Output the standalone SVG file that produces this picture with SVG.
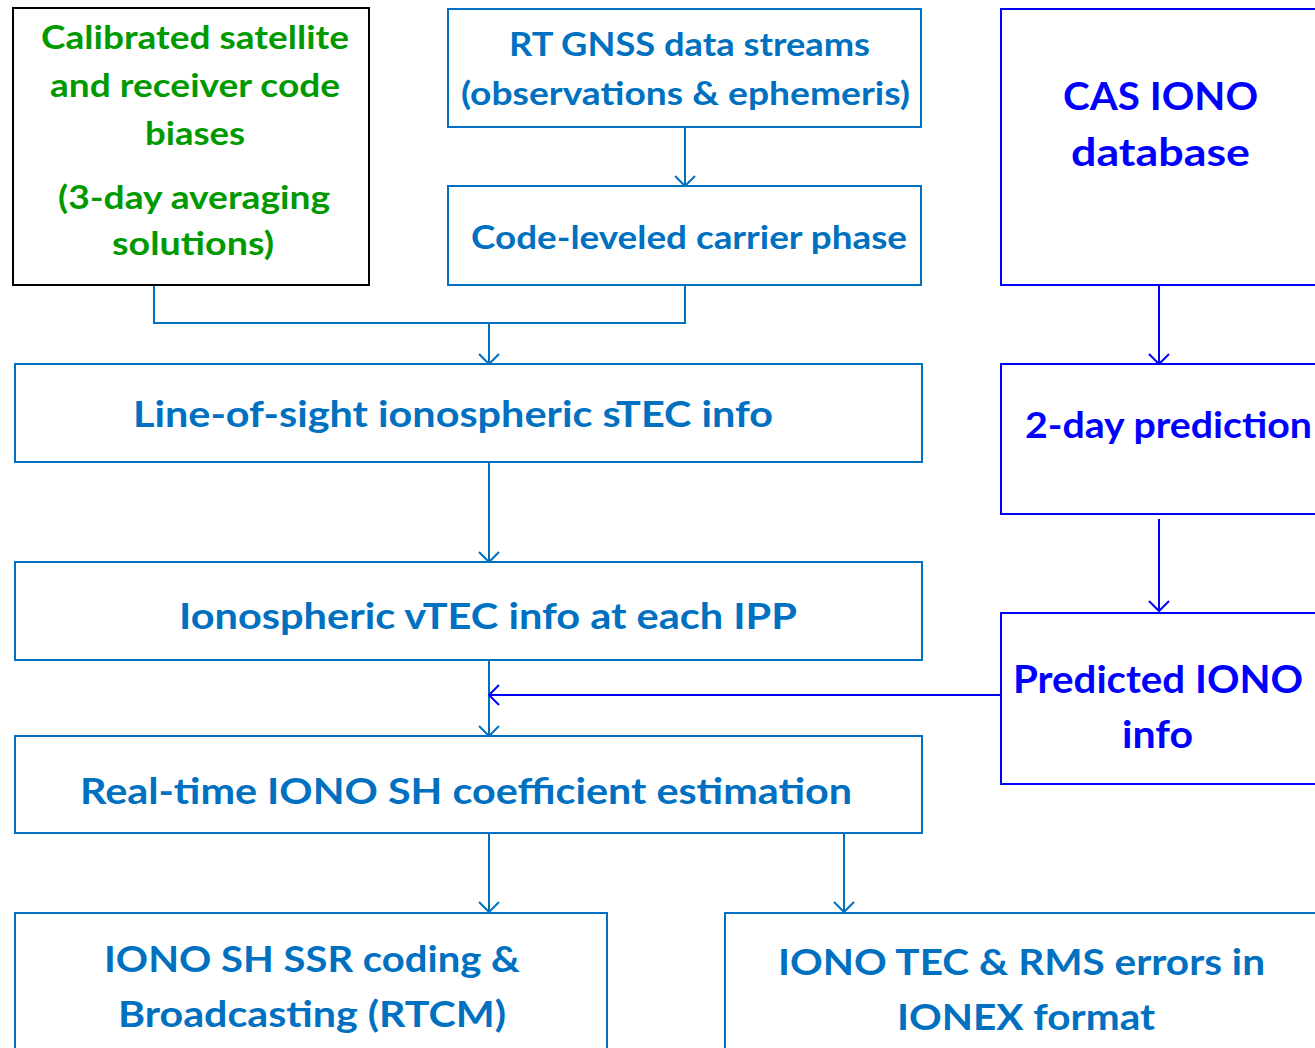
<svg xmlns="http://www.w3.org/2000/svg" width="1315" height="1048" viewBox="0 0 1315 1048">
<defs>
<style>
.t{font-family:Lato,"Open Sans","Liberation Sans",sans-serif;font-weight:bold;}
.lb{fill:#0070C0;}
.db{fill:#0000FF;}
.gr{fill:#009A00;}
.bx{fill:#FFFFFF;stroke-width:2;}
.bl{stroke:#0070C0;}
.bb{stroke:#0000FF;}
.bk{stroke:#000000;}
.c{fill:none;stroke-width:2;}
</style>
<marker id="al" markerWidth="14" markerHeight="24" refX="11" refY="11" orient="auto" markerUnits="userSpaceOnUse">
<path d="M1,1 L11,11 L1,21" fill="none" stroke="#0070C0" stroke-width="2"/>
</marker>
<marker id="ab" markerWidth="14" markerHeight="24" refX="11" refY="11" orient="auto" markerUnits="userSpaceOnUse">
<path d="M1,1 L11,11 L1,21" fill="none" stroke="#0000FF" stroke-width="2"/>
</marker>
</defs>
<rect width="1315" height="1048" fill="#FFFFFF"/>

<g id="connectors">
<path class="c bl" d="M685,127 V186" marker-end="url(#al)"/>
<path class="c bl" d="M154,285 V323 H685 V285"/>
<path class="c bl" d="M489,323 V364" marker-end="url(#al)"/>
<path class="c bl" d="M489,462 V562" marker-end="url(#al)"/>
<path class="c bl" d="M489,660 V736" marker-end="url(#al)"/>
<path class="c bb" d="M1001,695 H489" marker-end="url(#ab)"/>
<path class="c bb" d="M1159,285 V364" marker-end="url(#ab)"/>
<path class="c bb" d="M1159,519 V611" marker-end="url(#ab)"/>
<path class="c bl" d="M489,834 V912" marker-end="url(#al)"/>
<path class="c bl" d="M844,834 V912" marker-end="url(#al)"/>
</g>

<g id="n-biases">
<rect class="bx bk" x="13" y="8" width="356" height="277"/>
<text class="t gr" font-size="32" x="41" y="49" textLength="308" lengthAdjust="spacingAndGlyphs">Calibrated satellite</text>
<text class="t gr" font-size="32" x="50" y="97" textLength="290" lengthAdjust="spacingAndGlyphs">and receiver code</text>
<text class="t gr" font-size="32" x="145" y="145" textLength="100" lengthAdjust="spacingAndGlyphs">biases</text>
<text class="t gr" font-size="32" x="58" y="209" textLength="272" lengthAdjust="spacingAndGlyphs">(3-day averaging</text>
<text class="t gr" font-size="32" x="112" y="255" textLength="162" lengthAdjust="spacingAndGlyphs">solutions)</text>
</g>

<g id="n-rtgnss">
<rect class="bx bl" x="448" y="9" width="473" height="118"/>
<text class="t lb" font-size="32" x="509" y="56" textLength="361" lengthAdjust="spacingAndGlyphs">RT GNSS data streams</text>
<text class="t lb" font-size="32" x="461" y="105" textLength="449" lengthAdjust="spacingAndGlyphs">(observations &amp; ephemeris)</text>
</g>

<g id="n-codeleveled">
<rect class="bx bl" x="448" y="186" width="473" height="99"/>
<text class="t lb" font-size="32" x="471" y="249" textLength="436" lengthAdjust="spacingAndGlyphs">Code-leveled carrier phase</text>
</g>

<g id="n-cas">
<rect class="bx bb" x="1001" y="9" width="330" height="276"/>
<text class="t db" font-size="39" x="1063" y="110" textLength="195" lengthAdjust="spacingAndGlyphs">CAS IONO</text>
<text class="t db" font-size="39" x="1071" y="166" textLength="179" lengthAdjust="spacingAndGlyphs">database</text>
</g>

<g id="n-los">
<rect class="bx bl" x="15" y="364" width="907" height="98"/>
<text class="t lb" font-size="37" x="133" y="427" textLength="640" lengthAdjust="spacingAndGlyphs">Line-of-sight ionospheric sTEC info</text>
</g>

<g id="n-2day">
<rect class="bx bb" x="1001" y="364" width="330" height="150"/>
<text class="t db" font-size="36" x="1025" y="438" textLength="287" lengthAdjust="spacingAndGlyphs">2-day prediction</text>
</g>

<g id="n-vtec">
<rect class="bx bl" x="15" y="562" width="907" height="98"/>
<text class="t lb" font-size="37" x="179" y="629" textLength="618" lengthAdjust="spacingAndGlyphs">Ionospheric vTEC info at each IPP</text>
</g>

<g id="n-predicted">
<rect class="bx bb" x="1001" y="613" width="330" height="171"/>
<text class="t db" font-size="38" x="1013" y="693" textLength="290" lengthAdjust="spacingAndGlyphs">Predicted IONO</text>
<text class="t db" font-size="38" x="1122" y="748" textLength="71" lengthAdjust="spacingAndGlyphs">info</text>
</g>

<g id="n-realtime">
<rect class="bx bl" x="15" y="736" width="907" height="97"/>
<text class="t lb" font-size="37" x="80" y="804" textLength="772" lengthAdjust="spacingAndGlyphs">Real-time IONO SH coefficient estimation</text>
</g>

<g id="n-ssr">
<rect class="bx bl" x="15" y="913" width="592" height="150"/>
<text class="t lb" font-size="37" x="104" y="972" textLength="416" lengthAdjust="spacingAndGlyphs">IONO SH SSR coding &amp;</text>
<text class="t lb" font-size="37" x="118" y="1027" textLength="388" lengthAdjust="spacingAndGlyphs">Broadcasting (RTCM)</text>
</g>

<g id="n-ionex">
<rect class="bx bl" x="725" y="913" width="606" height="150"/>
<text class="t lb" font-size="37" x="778" y="975" textLength="487" lengthAdjust="spacingAndGlyphs">IONO TEC &amp; RMS errors in</text>
<text class="t lb" font-size="37" x="897" y="1030" textLength="258" lengthAdjust="spacingAndGlyphs">IONEX format</text>
</g>
</svg>
